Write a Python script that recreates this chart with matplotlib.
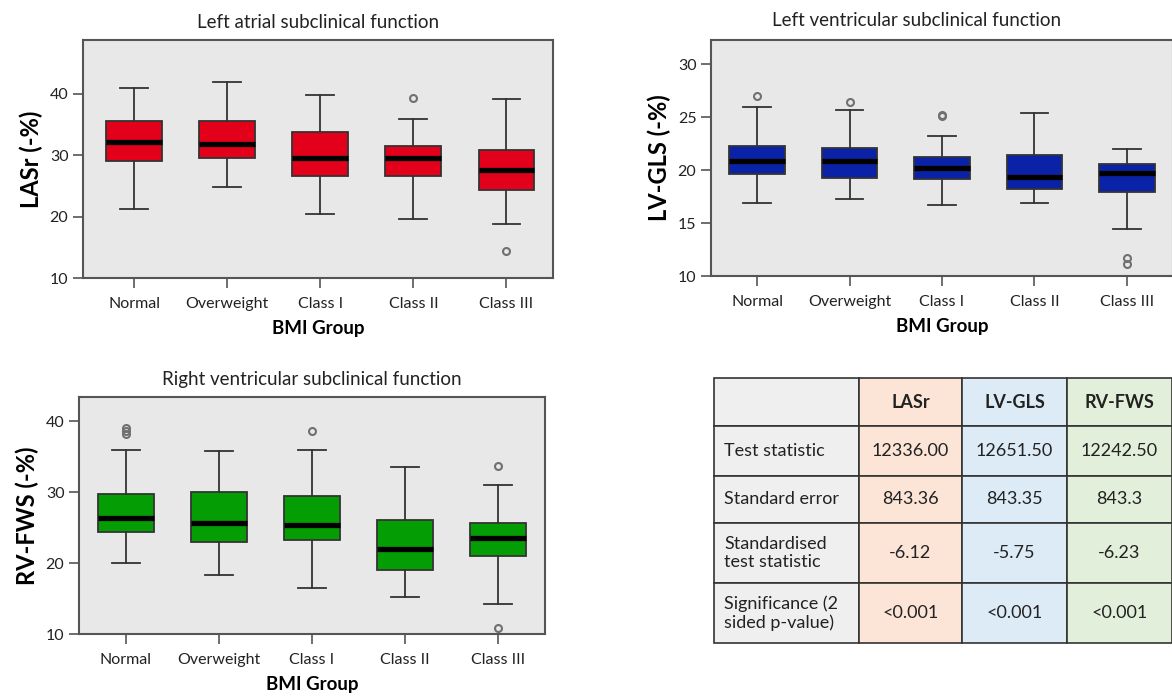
import matplotlib
matplotlib.use("Agg")
import matplotlib.pyplot as plt

plt.rcParams['font.family'] = ['Lato', 'DejaVu Sans']

W, H = 1172, 697

groups = ['Normal', 'Overweight', 'Class I', 'Class II', 'Class III']

# LASr (-%) box statistics per BMI group
lasr_low = [21.3, 24.9, 20.4, 19.7, 18.8]
lasr_q1 = [29.1, 29.5, 26.6, 26.6, 24.3]
lasr_med = [32.1, 31.8, 29.5, 29.5, 27.6]
lasr_q3 = [35.6, 35.6, 33.8, 31.6, 30.8]
lasr_high = [40.9, 41.9, 39.8, 36.0, 39.2]
lasr_out = [[], [], [], [39.3], [14.4]]

# LV-GLS (-%)
lvgls_low = [16.9, 17.3, 16.7, 16.9, 14.4]
lvgls_q1 = [19.6, 19.3, 19.2, 18.2, 17.9]
lvgls_med = [20.9, 20.9, 20.2, 19.4, 19.7]
lvgls_q3 = [22.3, 22.1, 21.2, 21.4, 20.6]
lvgls_high = [26.0, 25.7, 23.2, 25.4, 22.0]
lvgls_out = [[27.0], [26.4], [25.1, 25.2], [], [11.7, 11.1]]

# RV-FWS (-%)
rvfws_low = [20.0, 18.3, 16.5, 15.2, 14.2]
rvfws_q1 = [24.4, 22.9, 23.3, 19.0, 21.0]
rvfws_med = [26.4, 25.7, 25.3, 22.0, 23.5]
rvfws_q3 = [29.8, 30.0, 29.5, 26.0, 25.7]
rvfws_high = [35.9, 35.8, 36.0, 33.6, 31.0]
rvfws_out = [[39.1, 38.6, 38.2], [], [38.6], [], [33.7, 10.8]]

# Table of test results
table_cols = ['', 'LASr', 'LV-GLS', 'RV-FWS']
table_rows = ['Test statistic', 'Standard error', 'Standardised\ntest statistic',
              'Significance (2\nsided p-value)']
table_vals = [['12336.00', '12651.50', '12242.50'],
              ['843.36', '843.35', '843.3'],
              ['-6.12', '-5.75', '-6.23'],
              ['<0.001', '<0.001', '<0.001']]
col_colors = ['#EFEFEF', '#FCE4D6', '#DDEBF7', '#E2EFDA']


def px_axes(fig, left, top, right, bottom):
    return fig.add_axes([left / W, 1 - bottom / H, (right - left) / W, (bottom - top) / H])


def box_panel(ax, low, q1, med, q3, high, out, color, ylim, yticks, ylabel, title, xlim):
    stats = []
    for i in range(len(groups)):
        stats.append(dict(whislo=low[i], q1=q1[i], med=med[i], q3=q3[i],
                          whishi=high[i], fliers=out[i]))
    ax.set_facecolor('#E8E8E8')
    ax.bxp(stats, positions=range(1, 6), widths=0.6, capwidths=0.3, patch_artist=True,
           boxprops=dict(facecolor=color, edgecolor='#333333', linewidth=1.3),
           medianprops=dict(color='black', linewidth=3.8),
           whiskerprops=dict(color='#333333', linewidth=1.3),
           capprops=dict(color='#333333', linewidth=1.3),
           flierprops=dict(marker='o', markerfacecolor='none', markeredgecolor='#707070',
                           markersize=5, markeredgewidth=1.5))
    ax.set_xlim(*xlim)
    ax.set_ylim(*ylim)
    ax.set_yticks(yticks)
    ax.set_xticks(range(1, 6))
    ax.set_xticklabels(groups)
    ax.tick_params(axis='both', labelsize=11.5, length=7, width=1.2, color='#555555',
                   labelcolor='#222222', direction='out')
    ax.tick_params(axis='x', pad=7)
    for s in ax.spines.values():
        s.set_color('#555555')
        s.set_linewidth(1.5)
    ax.set_ylabel(ylabel, fontsize=17, fontweight='bold', labelpad=5)
    ax.set_xlabel('BMI Group', fontsize=13.5, fontweight='bold', labelpad=6)
    ax.set_title(title, fontsize=13.5, pad=9, color='#222222')


fig = plt.figure(figsize=(W / 100, H / 100), dpi=100)

ax1 = px_axes(fig, 83, 40, 553, 278)
box_panel(ax1, lasr_low, lasr_q1, lasr_med, lasr_q3, lasr_high, lasr_out, '#E2001A',
          (10, 48.8), [10, 20, 30, 40], 'LASr (-%)', 'Left atrial subclinical function',
          (0.45, 5.5))

ax2 = px_axes(fig, 711, 40, 1173, 276)
box_panel(ax2, lvgls_low, lvgls_q1, lvgls_med, lvgls_q3, lvgls_high, lvgls_out, '#0A22A8',
          (10, 32.3), [10, 15, 20, 25, 30], 'LV-GLS (-%)', '', (0.5, 5.5))
ax2.text(917 / W, 1 - 20 / H, 'Left ventricular subclinical function', transform=fig.transFigure,
         ha='center', va='center', fontsize=13.5, color='#222222')

ax3 = px_axes(fig, 79, 397, 545, 634)
box_panel(ax3, rvfws_low, rvfws_q1, rvfws_med, rvfws_q3, rvfws_high, rvfws_out, '#049E04',
          (10, 43.4), [10, 20, 30, 40], 'RV-FWS (-%)', 'Right ventricular subclinical function',
          (0.5, 5.5))

# table
tax = px_axes(fig, 714, 378, 1172, 643)
tax.axis('off')
cell_text = [table_cols] + [[r] + v for r, v in zip(table_rows, table_vals)]
cell_colors = [col_colors for _ in cell_text]
tbl = tax.table(cellText=cell_text, cellColours=cell_colors, cellLoc='center', bbox=[0, 0, 1, 1])
tbl.auto_set_font_size(False)
tbl.set_fontsize(13)
col_w = [145, 103, 105, 105]
row_h = [48, 50, 47, 60, 60]
for (r, c), cell in tbl.get_celld().items():
    cell.set_width(col_w[c])
    cell.set_height(row_h[r])
    cell.set_edgecolor('#333333')
    cell.set_linewidth(1.2)
    txt = cell.get_text()
    txt.set_color('#222222')
    if c == 0:
        cell.PAD = 0.07
        cell._loc = 'left'
        txt.set_ha('left')
    if r == 0:
        txt.set_fontweight('bold')

fig.savefig('out.png', dpi=100)
